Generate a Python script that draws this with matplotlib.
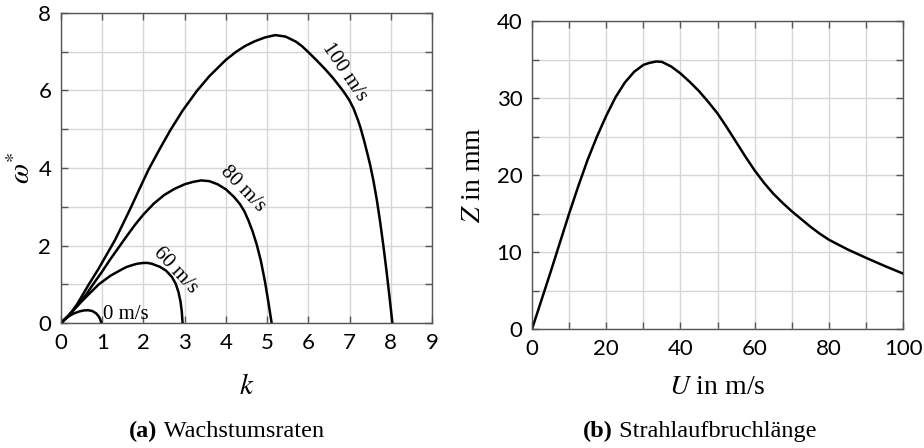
import matplotlib
matplotlib.use("Agg")
import matplotlib.pyplot as plt
from matplotlib.ticker import MultipleLocator

# ---------------------------------------------------------------------------
# Growth rates omega*(k) for several jet velocities
# ---------------------------------------------------------------------------
k_40 = [0, 0.1, 0.2, 0.32, 0.45, 0.56, 0.66, 0.76, 0.85, 0.91, 0.95, 0.98]
w_40 = [0, 0.1, 0.18, 0.25, 0.30, 0.325, 0.33, 0.31, 0.25, 0.18, 0.10, 0]

k_60 = [0, 0.2, 0.45, 0.7, 0.92, 1.2, 1.47, 1.6, 1.75, 1.85, 2.0, 2.1, 2.2,
        2.4, 2.55, 2.69, 2.78, 2.85, 2.9, 2.93, 2.95]
w_60 = [0, 0.22, 0.50, 0.77, 1.0, 1.22, 1.38, 1.45, 1.50, 1.53, 1.55, 1.55, 1.53,
        1.45, 1.35, 1.19, 1.02, 0.80, 0.55, 0.30, 0]

k_80 = [0, 0.2, 0.4, 0.6, 0.78, 1.0, 1.2, 1.4, 1.6, 1.8, 2.0, 2.25, 2.5, 2.75,
        3.0, 3.2, 3.4, 3.6, 3.8, 4.0, 4.2, 4.34, 4.45, 4.55, 4.65, 4.75, 4.85,
        4.95, 5.03, 5.11]
w_80 = [0, 0.2, 0.45, 0.72, 1.0, 1.33, 1.65, 1.95, 2.25, 2.54, 2.8, 3.08, 3.3,
        3.46, 3.58, 3.64, 3.68, 3.66, 3.58, 3.45, 3.25, 3.07, 2.88, 2.64, 2.36,
        2.02, 1.6, 1.06, 0.55, 0]

k_100 = [0, 0.2, 0.4, 0.66, 0.9, 1.1, 1.31, 1.5, 1.7, 1.9, 2.12, 2.4, 2.65,
         2.95, 3.29, 3.6, 4.0, 4.25, 4.47, 4.7, 4.95, 5.2, 5.45, 5.7, 5.85,
         6.0, 6.2, 6.4, 6.6, 6.8, 6.89, 7.0, 7.1, 7.2, 7.26, 7.35, 7.45, 7.5,
         7.58, 7.66, 7.74, 7.82, 7.9, 7.97, 8.04]
w_100 = [0, 0.2, 0.5, 0.97, 1.38, 1.75, 2.14, 2.55, 2.99, 3.45, 3.95, 4.5, 4.97,
         5.48, 5.98, 6.37, 6.79, 7.0, 7.15, 7.27, 7.37, 7.43, 7.39, 7.26, 7.14,
         6.99, 6.78, 6.56, 6.32, 6.05, 5.92, 5.74, 5.53, 5.25, 5.06, 4.72, 4.3,
         4.08, 3.67, 3.19, 2.63, 2.0, 1.32, 0.67, 0]

curve_labels = ["0 m/s", "60 m/s", "80 m/s", "100 m/s"]

# ---------------------------------------------------------------------------
# Jet breakup length Z(U)
# ---------------------------------------------------------------------------
U = [0, 5, 10, 12.5, 15, 17.5, 20, 22.5, 25, 27.5, 30, 31.5, 33.5, 35, 37.5,
     40, 42.5, 45, 47.5, 50, 52.5, 55, 57.5, 60, 62.5, 65, 67.5, 70, 72.5, 75,
     77.5, 80, 85, 90, 95, 100]
Z = [0, 7.4, 15.0, 18.6, 22.0, 25.0, 27.7, 30.1, 32.0, 33.4, 34.3, 34.55, 34.75,
     34.7, 34.1, 33.2, 32.1, 30.9, 29.5, 28.0, 26.2, 24.3, 22.4, 20.6, 19.0,
     17.6, 16.4, 15.3, 14.3, 13.3, 12.4, 11.6, 10.35, 9.25, 8.2, 7.2]

SERIF = "Liberation Serif"
TICKFONT = "Lato"
GRID = "#d6d6d6"
SPINE = "#555555"

plt.rcParams["mathtext.fontset"] = "stix"
plt.rcParams["font.family"] = SERIF


def style_axes(ax):
    ax.grid(True, which="both", color=GRID, linewidth=1.0)
    ax.set_axisbelow(True)
    for s in ax.spines.values():
        s.set_color(SPINE)
        s.set_linewidth(1.0)
    ax.tick_params(which="both", direction="in", top=True, right=True,
                   length=5, width=1.0, color=SPINE, labelsize=16, pad=7)
    for lab in ax.get_xticklabels() + ax.get_yticklabels():
        lab.set_fontfamily(TICKFONT)


fig = plt.figure(figsize=(9.24, 4.48), dpi=100)
ax1 = fig.add_axes([0.066, 0.279, 0.4015, 0.692])
ax2 = fig.add_axes([0.5758, 0.2656, 0.4015, 0.6874])

# --- (a) growth rates ------------------------------------------------------
for k, w in [(k_40, w_40), (k_60, w_60), (k_80, w_80), (k_100, w_100)]:
    ax1.plot(k, w, color="black", linewidth=1.8, solid_joinstyle="round")

ax1.set_xlim(0, 9)
ax1.set_ylim(0, 8)
ax1.xaxis.set_major_locator(MultipleLocator(1))
ax1.yaxis.set_major_locator(MultipleLocator(2))
ax1.yaxis.set_minor_locator(MultipleLocator(1))
style_axes(ax1)

lab_kw = dict(fontsize=15, rotation_mode="anchor", ha="center", va="center")
ax1.text(1.03, 0.22, curve_labels[0], fontsize=15, ha="left", va="center")
ax1.text(2.77, 1.36, curve_labels[1], rotation=-47, **lab_kw)
ax1.text(4.4, 3.47, curve_labels[2], rotation=-46, **lab_kw)
ax1.text(6.88, 6.48, curve_labels[3], rotation=-56, **lab_kw)

ax1.set_xlabel(r"$k$", fontsize=21)
ax1.set_ylabel(r"$\omega^{*}$", fontsize=21)
ax1.xaxis.set_label_coords(0.5, -0.165)
ax1.yaxis.set_label_coords(-0.068, 0.5)

# --- (b) breakup length ----------------------------------------------------
ax2.plot(U, Z, color="black", linewidth=1.8, solid_joinstyle="round")
ax2.set_xlim(0, 100)
ax2.set_ylim(0, 40)
ax2.xaxis.set_major_locator(MultipleLocator(20))
ax2.xaxis.set_minor_locator(MultipleLocator(10))
ax2.yaxis.set_major_locator(MultipleLocator(10))
ax2.yaxis.set_minor_locator(MultipleLocator(5))
style_axes(ax2)

ax2.set_xlabel(r"$U$ in m/s", fontsize=20)
ax2.set_ylabel(r"$Z$ in mm", fontsize=20)
ax2.xaxis.set_label_coords(0.5, -0.15)
ax2.yaxis.set_label_coords(-0.125, 0.5)

# --- captions: bold panel letter followed by regular title, centred --------
renderer = fig.canvas.get_renderer()
for xc, letter, title in [(0.245, "(a)", "Wachstumsraten"),
                          (0.757, "(b)", "Strahlaufbruchlänge")]:
    t1 = fig.text(0, 0.014, letter, fontsize=17.5, fontweight="bold",
                  ha="left", va="bottom")
    t2 = fig.text(0, 0.014, " " + title, fontsize=17.5, ha="left", va="bottom")
    w1 = t1.get_window_extent(renderer).width / fig.bbox.width
    w2 = t2.get_window_extent(renderer).width / fig.bbox.width
    x0 = xc - (w1 + w2) / 2
    t1.set_x(x0)
    t2.set_x(x0 + w1)

fig.savefig("out.png", dpi=100)
